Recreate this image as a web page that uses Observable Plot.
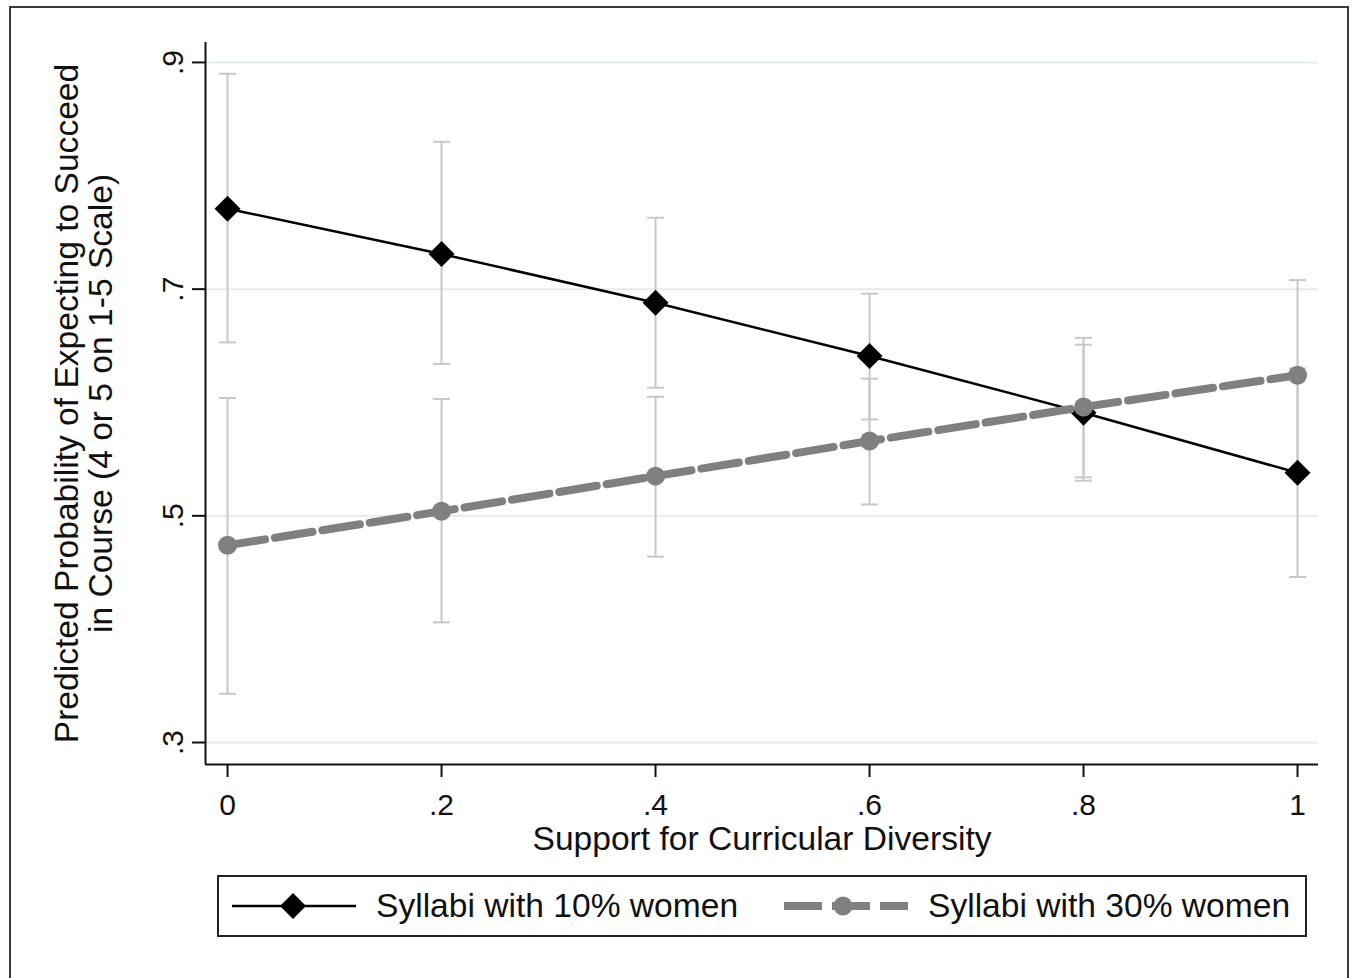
<!DOCTYPE html>
<html>
<head>
<meta charset="utf-8">
<script src="https://cdn.jsdelivr.net/npm/d3@7"></script>
<script src="https://cdn.jsdelivr.net/npm/@observablehq/plot@0.6"></script>
<style>
  html, body { margin: 0; padding: 0; background: #fff; }
  body { width: 1354px; height: 978px; position: relative; overflow: hidden; font-family: "Liberation Sans", Arial, sans-serif; }
  #border { position: absolute; left: 9px; top: 6px; width: 1340px; height: 990px; border: 2px solid #3a3a3a; box-sizing: border-box; }
  #chart { position: absolute; left: 0; top: 0; }
  #legend { position: absolute; left: 217px; top: 875px; width: 1090px; height: 62px; border: 2px solid #222; box-sizing: border-box; background: #fff; }
  .item { position: absolute; top: 0; height: 58px; display: flex; align-items: center; font-size: 33.6px; color: #111; white-space: nowrap; }
</style>
</head>
<body>
<div id="border"></div>
<div id="chart"></div>
<div id="legend"></div>
<script>
// ---- data ----
const xValues = [0, 0.2, 0.4, 0.6, 0.8, 1];
const pred10 = [0.771, 0.731, 0.688, 0.641, 0.591, 0.538];
const lower10 = [0.653, 0.634, 0.613, 0.585, 0.531, 0.446];
const upper10 = [0.890, 0.830, 0.763, 0.696, 0.651, 0.630];
const pred30 = [0.474, 0.504, 0.535, 0.566, 0.596, 0.624];
const lower30 = [0.343, 0.406, 0.464, 0.510, 0.534, 0.540];
const upper30 = [0.604, 0.603, 0.605, 0.621, 0.657, 0.708];
const xTicks = [0, 0.2, 0.4, 0.6, 0.8, 1];
const xTickLabels = ["0", ".2", ".4", ".6", ".8", "1"];
const yTicks = [0.3, 0.5, 0.7, 0.9];
const yTickLabels = [".3", ".5", ".7", ".9"];
const seriesNames = ["Syllabi with 10% women", "Syllabi with 30% women"];
const xTitle = "Support for Curricular Diversity";
const yTitle = "Predicted Probability of Expecting to Succeed\nin Course (4 or 5 on 1-5 Scale)";

const xDomain = [-0.0206, 1.0196];
const yDomain = [0.2806, 0.9176];

const rows10 = xValues.map((x, i) => ({x, y: pred10[i], lo: lower10[i], hi: upper10[i]}));
const rows30 = xValues.map((x, i) => ({x, y: pred30[i], lo: lower30[i], hi: upper30[i]}));

const capSymbol = {
  draw(ctx, size) {
    const w = Math.sqrt(size / Math.PI);
    ctx.moveTo(-w, 0);
    ctx.lineTo(w, 0);
  }
};

const ciColor = "#c8c8c8";
const grayColor = "#808080";

function ciMarks(rows) {
  return [
    Plot.ruleX(rows, {x: "x", y1: "lo", y2: "hi", stroke: ciColor, strokeWidth: 2}),
    Plot.dot(rows, {x: "x", y: "lo", symbol: capSymbol, r: 8.5, stroke: ciColor, strokeWidth: 2, fill: "none"}),
    Plot.dot(rows, {x: "x", y: "hi", symbol: capSymbol, r: 8.5, stroke: ciColor, strokeWidth: 2, fill: "none"})
  ];
}

const fmtX = d => xTickLabels[xTicks.indexOf(d)];
const fmtY = d => yTickLabels[yTicks.indexOf(d)];

const chart = Plot.plot({
  width: 1354,
  height: 860,
  marginLeft: 205,
  marginRight: 36,
  marginTop: 42,
  marginBottom: 96,
  x: {domain: xDomain},
  y: {domain: yDomain},
  style: {fontFamily: "'Liberation Sans', Arial, sans-serif", background: "transparent", overflow: "visible", color: "#111"},
  marks: [
    Plot.gridY(yTicks, {stroke: "#e3ebed", strokeOpacity: 1, strokeWidth: 2}),
    ...ciMarks(rows10),
    ...ciMarks(rows30),
    Plot.line(rows10, {x: "x", y: "y", stroke: "#000", strokeWidth: 2.5}),
    Plot.dot(rows10, {x: "x", y: "y", symbol: "diamond2", r: 11.7, fill: "#000", stroke: "none"}),
    Plot.line(rows30, {x: "x", y: "y", stroke: grayColor, strokeWidth: 8, strokeDasharray: "38,10"}),
    Plot.dot(rows30, {x: "x", y: "y", symbol: "circle", r: 9.5, fill: grayColor, stroke: "none"}),
    Plot.ruleX([xDomain[0]], {stroke: "#111", strokeWidth: 2}),
    Plot.ruleY([yDomain[0]], {stroke: "#111", strokeWidth: 2}),
    Plot.axisX(xTicks, {tickFormat: fmtX, tickSize: 13, tickPadding: 16, fontSize: 30, strokeWidth: 2, stroke: "#111", label: null}),
    Plot.axisY(yTicks, {tickFormat: fmtY, tickSize: 13, tickPadding: 10, fontSize: 30, strokeWidth: 2, stroke: "#111", tickRotate: -90, label: null}),
    Plot.text([xTitle], {frameAnchor: "bottom", dy: 62, lineAnchor: "top", fontSize: 33.6, fill: "#111"}),
    Plot.text([yTitle], {frameAnchor: "left", dx: -121, rotate: -90, lineAnchor: "middle", textAnchor: "middle", fontSize: 33.6, lineHeight: 1.01, fill: "#111"})
  ]
});
document.getElementById("chart").appendChild(chart);

// ---- legend ----
const legend = document.getElementById("legend");
function addItem(left, idx) {
  const item = document.createElement("div");
  item.className = "item";
  item.style.left = left + "px";
  const ns = "http://www.w3.org/2000/svg";
  const svg = document.createElementNS(ns, "svg");
  svg.setAttribute("width", 124);
  svg.setAttribute("height", 30);
  svg.style.marginRight = "20px";
  const line = document.createElementNS(ns, "line");
  line.setAttribute("x1", 0); line.setAttribute("x2", 124);
  line.setAttribute("y1", 15); line.setAttribute("y2", 15);
  if (idx === 0) {
    line.setAttribute("stroke", "#000"); line.setAttribute("stroke-width", 2.5);
    svg.appendChild(line);
    const d = document.createElementNS(ns, "path");
    d.setAttribute("d", "M61,2L74,15L61,28L48,15Z");
    d.setAttribute("fill", "#000");
    svg.appendChild(d);
  } else {
    line.setAttribute("stroke", grayColor); line.setAttribute("stroke-width", 8);
    line.setAttribute("stroke-dasharray", "38,10");
    svg.appendChild(line);
    const c = document.createElementNS(ns, "circle");
    c.setAttribute("cx", 59); c.setAttribute("cy", 15); c.setAttribute("r", 9.5);
    c.setAttribute("fill", grayColor);
    svg.appendChild(c);
  }
  item.appendChild(svg);
  const span = document.createElement("span");
  span.textContent = seriesNames[idx];
  item.appendChild(span);
  legend.appendChild(item);
}
addItem(13, 0);
addItem(565, 1);
</script>
</body>
</html>
